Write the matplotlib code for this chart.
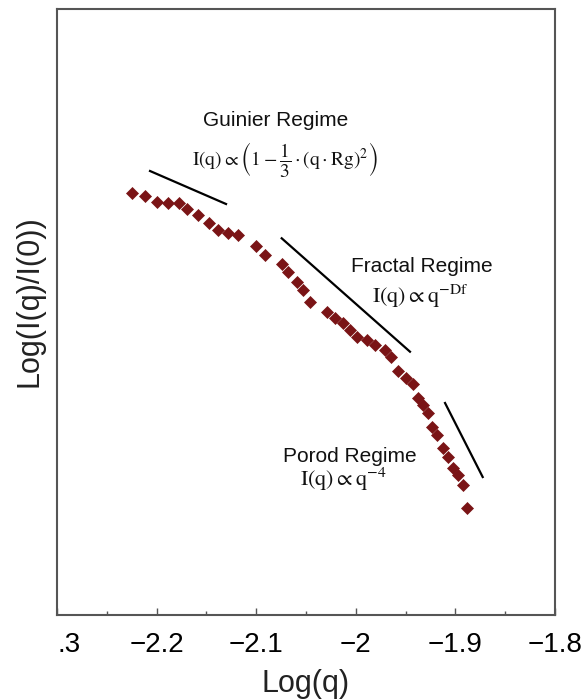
import matplotlib
matplotlib.use("Agg")
import matplotlib.pyplot as plt
from matplotlib.ticker import FixedLocator, FixedFormatter, MultipleLocator
from matplotlib.transforms import ScaledTranslation

plt.rcParams['font.family'] = ['Liberation Sans', 'DejaVu Sans']
plt.rcParams['mathtext.fontset'] = 'stix'

# ---- data ----
log_q = [-2.225, -2.212, -2.200, -2.189, -2.178, -2.169, -2.158, -2.147, -2.138,
         -2.128, -2.118, -2.100, -2.091, -2.074, -2.068, -2.059, -2.053, -2.046,
         -2.029, -2.021, -2.013, -2.006, -1.999, -1.989, -1.981, -1.971, -1.965,
         -1.958, -1.950, -1.943, -1.938, -1.933, -1.928, -1.923, -1.918, -1.912,
         -1.907, -1.902, -1.897, -1.892, -1.888]
log_I = [4.22, 4.19, 4.13, 4.12, 4.12, 4.06, 4.00, 3.92, 3.85,
         3.82, 3.80, 3.69, 3.60, 3.51, 3.43, 3.33, 3.25, 3.13,
         3.03, 2.97, 2.92, 2.85, 2.78, 2.75, 2.70, 2.65, 2.58,
         2.44, 2.37, 2.31, 2.17, 2.10, 2.02, 1.88, 1.80, 1.67,
         1.58, 1.47, 1.40, 1.30, 1.07]

# guide lines (x pair, y pair)
guinier_x = [-2.2066, -2.1303]
guinier_y = [4.44, 4.11]
fractal_x = [-2.0744, -1.9456]
fractal_y = [3.767, 2.633]
porod_x = [-1.9104, -1.8726]
porod_y = [2.12, 1.38]

xticks = [-2.3, -2.2, -2.1, -2.0, -1.9, -1.8]
xtick_labels = ['.3', '\u22122.2', '\u22122.1', '\u22122', '\u22121.9', '\u22121.8']

fig = plt.figure(figsize=(5.81, 7.0), dpi=100)
ax = fig.add_axes([57/581, 1-615/700, 498/581, 606/700])

ax.plot(log_q, log_I, linestyle='none', marker='D', ms=6.6,
        color='#7a1416', markeredgecolor='#7a1416', markeredgewidth=0.5)

for xs, ys in [(guinier_x, guinier_y), (fractal_x, fractal_y), (porod_x, porod_y)]:
    ax.plot(xs, ys, color='black', lw=1.6)

ax.set_xlim(-2.3, -1.8)
ax.set_ylim(0, 6.06)

ax.xaxis.set_major_locator(FixedLocator(xticks))
ax.xaxis.set_major_formatter(FixedFormatter(xtick_labels))
ax.xaxis.set_minor_locator(MultipleLocator(0.05))
ax.set_yticks([])
ax.tick_params(axis='x', which='major', direction='in', length=5, width=1,
               color='#555555', labelsize=20, pad=12)
ax.tick_params(axis='x', which='minor', direction='in', length=3, width=1,
               color='#555555')
ax.tick_params(axis='x', top=False, which='both')

for sp in ax.spines.values():
    sp.set_color('#555555')
    sp.set_linewidth(1.5)

# shift the cropped first tick label
lbl = ax.get_xticklabels()[0]
lbl.set_transform(lbl.get_transform() + ScaledTranslation(12/100, 0, fig.dpi_scale_trans))

ax.set_xlabel('Log(q)', fontsize=22, labelpad=8, color='#222222')
ax.set_ylabel('Log(I(q)/I(0))', fontsize=22, color='#222222')
ax.yaxis.set_label_coords(-0.026, 0.518)

txt_kw = dict(ha='center', va='center', color='#111111')
ax.text(-2.0801, 4.94, 'Guinier Regime', fontsize=15, **txt_kw)
ax.text(-2.0711, 4.55,
        r'$\mathrm{I(q)}\propto\left(1-\dfrac{1}{3}\cdot(\mathrm{q}\cdot\mathrm{Rg})^{2}\right)$',
        fontsize=14, **txt_kw)
ax.text(-1.9335, 3.49, 'Fractal Regime', fontsize=15, **txt_kw)
ax.text(-1.9355, 3.19, r'$\mathrm{I(q)}\propto\mathrm{q}^{-\mathrm{Df}}$', fontsize=16, **txt_kw)
ax.text(-2.0058, 1.59, 'Porod Regime', fontsize=15, **txt_kw)
ax.text(-2.0129, 1.36, r'$\mathrm{I(q)}\propto\mathrm{q}^{-4}$', fontsize=16, **txt_kw)

fig.savefig('out.png', dpi=100)
